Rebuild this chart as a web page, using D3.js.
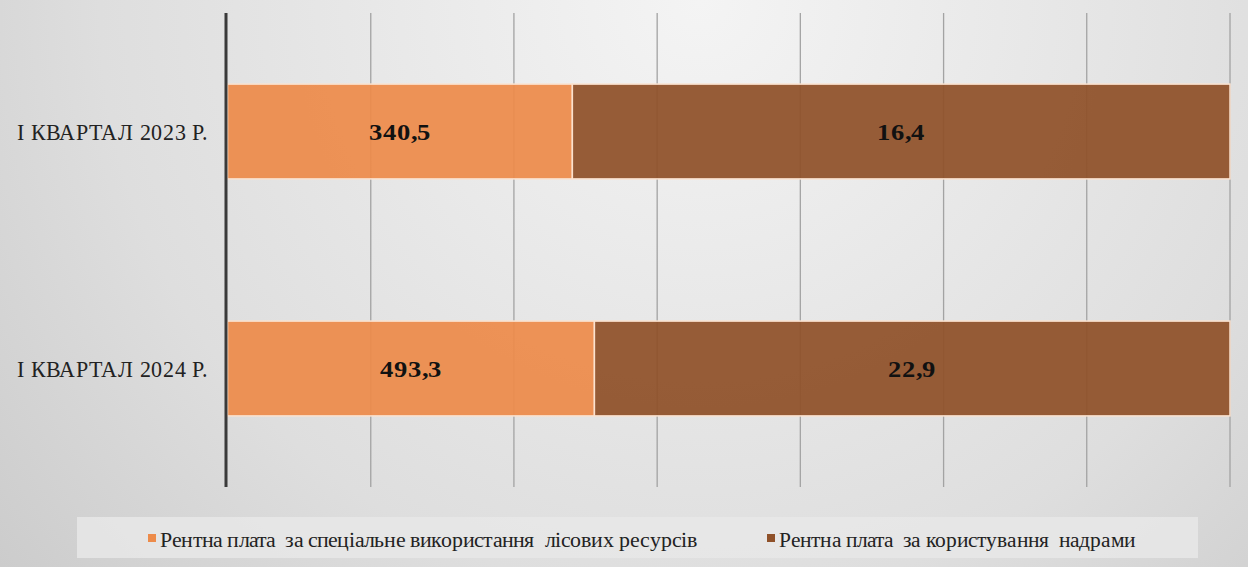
<!DOCTYPE html>
<html><head><meta charset="utf-8">
<script src="https://cdn.jsdelivr.net/npm/d3@7"></script>
<style>
@font-face { font-family: "ChartSerif"; src: local("Liberation Serif"), local("LiberationSerif"), local("Liberation Serif Regular"); font-weight: 400; }
@font-face { font-family: "ChartSerif"; src: local("Liberation Serif Bold"), local("LiberationSerif-Bold"); font-weight: 700; }
html body svg#chart text { font-family: "ChartSerif", "Liberation Serif", "Times New Roman", Tinos !important; }
</style>
</head><body style="margin:0">
<svg id="chart" width="1248" height="567" style="display:block"></svg>
<script>
// ---- data ----
const categories = ["I КВАРТАЛ 2023 Р.", "I КВАРТАЛ 2024 Р."];
const seriesNames = ["Рентна плата  за спеціальне використання  лісових ресурсів", "Рентна плата  за користування  надрами"];
// share of bar length (percent) as drawn
const forestShare = [34.4, 36.6];
const subsoilShare = [65.6, 63.4];
// data labels shown on bars
const forestLabels = ["340,5", "493,3"];
const subsoilLabels = ["16,4", "22,9"];
const gridTicks = [0, 14.29, 28.57, 42.86, 57.14, 71.43, 85.71, 100];
const colors = ["#ED8B4A", "#8F5129"];

const FONT = '"ChartSerif", "Liberation Serif", "Times New Roman", Tinos';
const W = 1248, H = 567;
const svg = d3.select("#chart");
const defs = svg.append("defs");
const rg = defs.append("radialGradient").attr("id","bg").attr("gradientUnits","userSpaceOnUse")
  .attr("cx", 700).attr("cy", 0).attr("r", 1000);
rg.append("stop").attr("offset","0%").attr("stop-color","#f4f4f4");
rg.append("stop").attr("offset","60%").attr("stop-color","#dedede");
rg.append("stop").attr("offset","100%").attr("stop-color","#c6c6c6");
svg.append("rect").attr("width",W).attr("height",H).attr("fill","url(#bg)");

const margin = {left: 227.5, right: 1230, top: 13, bottom: 487};
const x = d3.scaleLinear().domain([0,100]).range([margin.left, margin.right]);
const y = d3.scaleBand().domain(categories).range([margin.top, margin.bottom]).paddingInner(0.6).paddingOuter(0.3);

function stretch(sel, sx, ax) {
  sel.attr("transform", `translate(${ax},0) scale(${sx},1) translate(${-ax},0)`);
}
function serif(sel) { return sel.style("font-family", FONT, "important"); }

// gridlines
svg.append("g").selectAll("line").data(gridTicks.slice(1)).join("line")
  .attr("x1", d => x(d)).attr("x2", d => x(d))
  .attr("y1", margin.top).attr("y2", margin.bottom)
  .attr("stroke", "#a3a3a3").attr("stroke-width", 1.3);

// stacked bars
const rows = categories.map((c,i) => ({cat:c, vals:[forestShare[i], subsoilShare[i]], labels:[forestLabels[i], subsoilLabels[i]]}));
const g = svg.append("g");
const labelSel = [];
rows.forEach(r => {
  let acc = 0;
  r.vals.forEach((v,k) => {
    const x0 = x(acc), x1 = x(acc+v);
    g.append("rect").attr("x", x0).attr("y", y(r.cat)).attr("width", x1-x0).attr("height", y.bandwidth())
      .attr("fill", colors[k]).attr("fill-opacity", 0.93)
      .attr("stroke", "#fbe2cf").attr("stroke-width", 1.5);
    const cx = (x0+x1)/2;
    const t = g.append("text").attr("x", cx).attr("y", y(r.cat)+y.bandwidth()/2 + 8.5)
      .attr("text-anchor","middle")
      .attr("font-weight","bold").attr("font-size", 23.5)
      .attr("fill","#111").text(r.labels[k]);
    serif(t);
    labelSel.push([t, cx]);
    acc += v;
  });
});

// axis line + category labels
const yAxis = svg.append("g").attr("transform", `translate(${margin.left - 1.5},0)`)
  .call(d3.axisLeft(y).tickSize(0).tickPadding(0));
yAxis.attr("font-family", null).attr("font-size", 23);
yAxis.select(".domain").attr("d", `M0,${margin.top}V${margin.bottom}`).attr("stroke","#3a3a3a").attr("stroke-width",3);
const lx = 208 - (margin.left - 1.5);
const tickTexts = yAxis.selectAll(".tick text").attr("x", lx).attr("dy", null).attr("y", 8)
  .attr("font-size",23).attr("fill","#222");
serif(tickTexts);

// legend
svg.append("rect").attr("x",77).attr("y",517).attr("width",1121).attr("height",41).attr("fill","#e8e8e8").attr("fill-opacity",0.85);
const legMarkX = [152, 771];
const legTextX = [160, 779];
const legTextW = [538, 356];
const legTexts = [];
seriesNames.forEach((n,i) => {
  svg.append("rect").attr("x", legMarkX[i]-4).attr("y", 534).attr("width",8).attr("height",8).attr("fill",colors[i]);
  const t = svg.append("text").attr("x", legTextX[i]).attr("y", 547)
    .attr("font-size",21).attr("fill","#222")
    .style("white-space","pre").text(n);
  serif(t);
  legTexts.push(t);
});

// fit widened text (reference text is horizontally stretched)
function fit() {
  const dlSx = 62 / labelSel[0][0].node().getComputedTextLength();
  labelSel.forEach(([t,cx]) => stretch(t, dlSx, cx));
  const catSx = 180 / yAxis.select(".tick text").node().getComputedTextLength();
  tickTexts.each(function(){ stretch(d3.select(this), catSx, lx); });
  legTexts.forEach((t,i) => stretch(t, legTextW[i] / t.node().getComputedTextLength(), legTextX[i]));
}
fit();
if (document.fonts && document.fonts.ready) document.fonts.ready.then(fit);
setTimeout(fit, 100);
setTimeout(fit, 400);
setTimeout(fit, 1000);
</script>
</body></html>
